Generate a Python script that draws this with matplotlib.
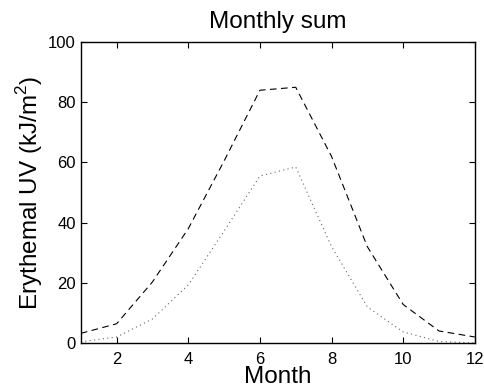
import matplotlib
matplotlib.use('Agg')
import matplotlib.pyplot as plt

# Datos
meses = [1, 2, 3, 4, 5, 6, 7, 8, 9, 10, 11, 12]
uv_cielo_claro = [3.2, 6.4, 20.3, 38.0, 60.5, 84.0, 85.0, 62.0, 32.0, 12.8, 4.0, 2.0]
uv_medido = [0.4, 2.0, 8.0, 19.3, 37.2, 55.5, 58.5, 32.0, 12.0, 3.7, 0.5, 0.0]

plt.rcParams['font.family'] = ['Liberation Sans', 'DejaVu Sans']
plt.rcParams['mathtext.fontset'] = 'custom'
plt.rcParams['mathtext.rm'] = 'Liberation Sans'

fig = plt.figure(figsize=(4.84, 3.90), dpi=100)
ax = fig.add_axes([0.167, 0.1205, 0.814, 0.7715])

ax.plot(meses, uv_cielo_claro, color='black', linestyle=(0, (6, 4)), linewidth=0.8)
ax.plot(meses, uv_medido, color='#666666', linestyle=(0, (1, 3)), linewidth=0.8)

ax.set_xlim(1, 12)
ax.set_ylim(0, 100)
ax.set_xticks([2, 4, 6, 8, 10, 12])
ax.set_yticks([0, 20, 40, 60, 80, 100])
ax.tick_params(direction='in', top=True, right=True, labelsize=12, length=4, width=0.8)
ax.tick_params(axis='x', pad=6.5)
for lado in ax.spines.values():
    lado.set_linewidth(1.0)

ax.set_title('Monthly sum', fontsize=17.5, pad=10)
ax.set_xlabel('Month', fontsize=17.5, labelpad=-1)
ax.set_ylabel('Erythemal UV (kJ/m$^\\mathrm{2}$)', fontsize=17.5, labelpad=2)

fig.savefig('out.png', dpi=100)
